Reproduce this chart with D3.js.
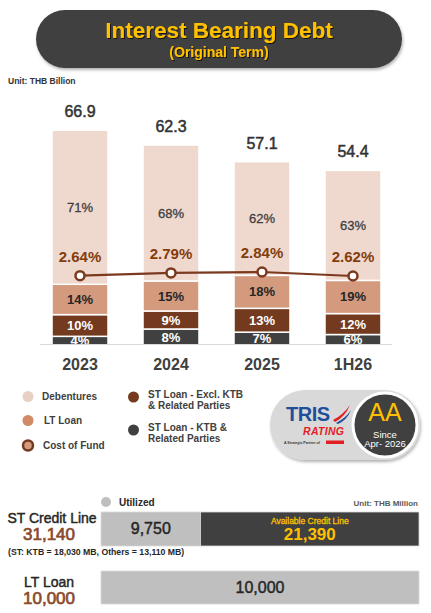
<!DOCTYPE html>
<html>
<head>
<meta charset="UTF-8" />
<script src="https://d3js.org/d3.v7.min.js"></script>
<style>
  body { margin: 0; background: #fff; }
  svg { display: block; font-family: "Liberation Sans", Arial, sans-serif; }
</style>
</head>
<body>
<svg id="svg"></svg>
<script>
  // data
  var categories = ["2023", "2024", "2025", "1H26"];
  var totals = [66.9, 62.3, 57.1, 54.4];
  var ktbPct = [4, 8, 7, 6];
  var stExclPct = [10, 9, 13, 12];
  var ltLoanPct = [14, 15, 18, 19];
  var debenturesPct = [71, 68, 62, 63];
  var costOfFund = [2.64, 2.79, 2.84, 2.62];

  var stCreditLine = 31140;
  var stUtilized = 9750;
  var stAvailable = 21390;
  var ltLoan = 10000;

  var width = 431, height = 613;

  var c_deb = "#EFD9CE", c_lt = "#D49A7E", c_excl = "#743A1F", c_ktb = "#404040";
  var c_line = "#7B3A1F", c_cof = "#843C0C", c_yellow = "#FFC000", c_brown = "#8A4B2C";

  var svg = d3.select("#svg").attr("width", width).attr("height", height);

  // thin outline makes regular text look semi-bold like the reference
  function heavy(sel, w) {
    return sel.attr("stroke", sel.attr("fill")).attr("stroke-width", w || 0.4);
  }

  var defs = svg.append("defs");
  var sh = defs.append("filter").attr("id", "shadow").attr("x", "-10%").attr("y", "-20%").attr("width", "120%").attr("height", "150%");
  sh.append("feDropShadow").attr("dx", 1).attr("dy", 2).attr("stdDeviation", 1.5).attr("flood-color", "#000").attr("flood-opacity", 0.3);
  var tsh = defs.append("filter").attr("id", "tshadow");
  tsh.append("feDropShadow").attr("dx", 1).attr("dy", 1).attr("stdDeviation", 0.6).attr("flood-color", "#000").attr("flood-opacity", 0.7);
  defs.append("clipPath").attr("id", "plotclip").append("rect")
    .attr("x", 0).attr("y", 0).attr("width", width).attr("height", 344);

  // title pill
  svg.append("rect").attr("x", 36).attr("y", 10).attr("width", 366).attr("height", 58)
    .attr("rx", 29).attr("fill", "#404040").attr("filter", "url(#shadow)");
  svg.append("text").attr("x", 219).attr("y", 38).attr("text-anchor", "middle")
    .attr("font-size", 22.5).attr("font-weight", "bold").attr("fill", c_yellow)
    .attr("filter", "url(#tshadow)").text("Interest Bearing Debt");
  svg.append("text").attr("x", 219).attr("y", 57).attr("text-anchor", "middle")
    .attr("font-size", 14).attr("font-weight", "bold").attr("fill", c_yellow)
    .attr("filter", "url(#tshadow)").text("(Original Term)");

  svg.append("text").attr("x", 8).attr("y", 84).attr("font-size", 8.5).attr("font-weight", "bold")
    .attr("fill", "#333").text("Unit: THB Billion");

  // scales
  var x = d3.scaleBand().domain(categories).range([17, 416]).padding(0.385);
  var y = d3.scaleLinear().domain([0, 70]).range([345, 120.3]);
  var yCof = d3.scaleLinear().domain([2.5, 3.0]).range([278.2, 269.1]);

  var keys = ["ktb", "excl", "lt", "deb"];
  var rows = categories.map(function (c, i) {
    var pcts = [ktbPct[i], stExclPct[i], ltLoanPct[i], debenturesPct[i]];
    var sum = d3.sum(pcts);
    var r = { cat: c, total: totals[i] };
    keys.forEach(function (k, j) { r[k] = totals[i] * pcts[j] / sum; r[k + "Pct"] = pcts[j]; });
    return r;
  });
  var series = d3.stack().keys(keys)(rows);
  var colors = { ktb: c_ktb, excl: c_excl, lt: c_lt, deb: c_deb };
  var labelColors = { ktb: "#fff", excl: "#fff", lt: "#262626", deb: "#404040" };

  var plot = svg.append("g").attr("clip-path", "url(#plotclip)");

  var layers = plot.selectAll("g.layer").data(series).enter().append("g").attr("class", "layer");
  layers.selectAll("rect").data(function (s) { return s.map(function (d) { d.key = s.key; return d; }); })
    .enter().append("rect")
    .attr("x", function (d) { return x(d.data.cat); })
    .attr("width", x.bandwidth())
    .attr("y", function (d) { return y(d[1]); })
    .attr("height", function (d) { return y(d[0]) - y(d[1]); })
    .attr("fill", function (d) { return colors[d.key]; })
    .attr("stroke", "#fff").attr("stroke-width", 1.5);

  layers.selectAll("text").data(function (s) { return s; })
    .enter().append("text")
    .attr("x", function (d) { return x(d.data.cat) + x.bandwidth() / 2; })
    .attr("y", function (d) { return (y(d[0]) + y(d[1])) / 2 + 4.5; })
    .attr("text-anchor", "middle")
    .attr("font-size", 13)
    .attr("font-weight", function (d) { return d.key == "deb" ? "normal" : "bold"; })
    .attr("fill", function (d) { return labelColors[d.key]; })
    .attr("stroke", function (d) { return d.key == "deb" ? "#404040" : "none"; })
    .attr("stroke-width", 0.3)
    .text(function (d) { return d.data[d.key + "Pct"] + "%"; });

  // axis line
  svg.append("line").attr("x1", 40).attr("x2", 392).attr("y1", 344.5).attr("y2", 344.5)
    .attr("stroke", "#D9D9D9").attr("stroke-width", 1);

  // totals
  heavy(svg.selectAll("text.total").data(rows).enter().append("text").attr("class", "total")
    .attr("x", function (d) { return x(d.cat) + x.bandwidth() / 2; })
    .attr("y", function (d) { return y(d.total) - 13; })
    .attr("text-anchor", "middle").attr("font-size", 16).attr("fill", "#333")
    .text(function (d) { return d.total.toFixed(1); }), 0.5);

  // category labels
  svg.selectAll("text.cat").data(categories).enter().append("text").attr("class", "cat")
    .attr("x", function (d) { return x(d) + x.bandwidth() / 2; })
    .attr("y", 370).attr("text-anchor", "middle").attr("font-size", 16)
    .attr("font-weight", "bold").attr("fill", "#404040").text(function (d) { return d; });

  // cost of fund line
  var cof = categories.map(function (c, i) { return { cat: c, v: costOfFund[i] }; });
  var line = d3.line().x(function (d) { return x(d.cat) + x.bandwidth() / 2; }).y(function (d) { return yCof(d.v); });
  svg.append("path").datum(cof).attr("d", line).attr("fill", "none")
    .attr("stroke", c_line).attr("stroke-width", 2.2);
  svg.selectAll("circle.cof").data(cof).enter().append("circle").attr("class", "cof")
    .attr("cx", function (d) { return x(d.cat) + x.bandwidth() / 2; })
    .attr("cy", function (d) { return yCof(d.v); })
    .attr("r", 4.5).attr("fill", "#fff").attr("stroke", c_line).attr("stroke-width", 2.5);
  svg.selectAll("text.cof").data(cof).enter().append("text").attr("class", "cof")
    .attr("x", function (d) { return x(d.cat) + x.bandwidth() / 2; })
    .attr("y", function (d) { return yCof(d.v) - 14; })
    .attr("text-anchor", "middle").attr("font-size", 15).attr("font-weight", "bold")
    .attr("fill", c_cof).text(function (d) { return d.v.toFixed(2) + "%"; });

  // legend
  var leg = svg.append("g").attr("font-size", 10).attr("font-weight", "bold").attr("fill", "#404040");
  leg.append("circle").attr("cx", 28).attr("cy", 396.5).attr("r", 5.5).attr("fill", "#E8D0C4");
  leg.append("text").attr("x", 42).attr("y", 400).text("Debentures");
  leg.append("circle").attr("cx", 28).attr("cy", 420.5).attr("r", 5.5).attr("fill", "#D08A66");
  leg.append("text").attr("x", 44).attr("y", 424).text("LT Loan");
  leg.append("circle").attr("cx", 28).attr("cy", 445.5).attr("r", 5).attr("fill", c_lt)
    .attr("stroke", c_excl).attr("stroke-width", 2.5);
  leg.append("text").attr("x", 43).attr("y", 449).text("Cost of Fund");
  leg.append("circle").attr("cx", 133.5).attr("cy", 397).attr("r", 5.5).attr("fill", c_excl);
  leg.append("text").attr("x", 148).attr("y", 398).text("ST Loan - Excl. KTB");
  leg.append("text").attr("x", 148).attr("y", 409).text("& Related Parties");
  leg.append("circle").attr("cx", 133.5).attr("cy", 430).attr("r", 5.5).attr("fill", c_ktb);
  leg.append("text").attr("x", 148).attr("y", 431).text("ST Loan - KTB &");
  leg.append("text").attr("x", 148).attr("y", 442).text("Related Parties");

  // rating badge
  var badge = svg.append("g");
  badge.append("rect").attr("x", 270).attr("y", 390).attr("width", 150).attr("height", 70)
    .attr("rx", 35).attr("fill", "#D9D9D9").attr("filter", "url(#shadow)");
  badge.append("text").attr("x", 286).attr("y", 421).attr("font-size", 20).attr("font-weight", "bold")
    .attr("fill", "#1F4E9A").attr("letter-spacing", -0.5).text("TRIS");
  badge.append("path").attr("d", "M333,420 Q343,415 350,405 Q345,417 335,422 Z").attr("fill", "#E31E24");
  badge.append("path").attr("d", "M336,423 Q346,418 351,410 Q347,420 338,424 Z").attr("fill", "#1F4E9A");
  badge.append("text").attr("x", 303).attr("y", 435).attr("font-size", 10.5).attr("font-weight", "bold")
    .attr("font-style", "italic").attr("fill", "#E31E24").attr("textLength", 41).text("RATING");
  badge.append("text").attr("x", 284).attr("y", 443.5).attr("font-size", 3.5).attr("font-weight", "bold")
    .attr("fill", "#333").text("A Strategic Partner of");
  badge.append("rect").attr("x", 326).attr("y", 440.5).attr("width", 18).attr("height", 3.5).attr("fill", "#E31E24");
  badge.append("circle").attr("cx", 385).attr("cy", 425).attr("r", 32).attr("fill", "#404040")
    .attr("stroke", "#fff").attr("stroke-width", 3);
  badge.append("text").attr("x", 385).attr("y", 421).attr("text-anchor", "middle").attr("font-size", 25)
    .attr("fill", c_yellow).text("AA");
  badge.append("text").attr("x", 385).attr("y", 437.5).attr("text-anchor", "middle").attr("font-size", 9.5)
    .attr("fill", "#fff").text("Since");
  badge.append("text").attr("x", 385).attr("y", 447).attr("text-anchor", "middle").attr("font-size", 9.5)
    .attr("fill", "#fff").text("Apr- 2026");

  // credit lines
  var xs = d3.scaleLinear().domain([0, stCreditLine]).range([101, 419]);
  var xl = d3.scaleLinear().domain([0, ltLoan]).range([101, 419]);

  svg.append("circle").attr("cx", 106).attr("cy", 502).attr("r", 5).attr("fill", "#BFBFBF");
  svg.append("text").attr("x", 119).attr("y", 506).attr("font-size", 10).attr("font-weight", "bold")
    .attr("fill", "#262626").text("Utilized");
  svg.append("text").attr("x", 418).attr("y", 506).attr("text-anchor", "end").attr("font-size", 8)
    .attr("font-weight", "bold").attr("fill", "#595959").text("Unit: THB Million");

  heavy(svg.append("text").attr("x", 52).attr("y", 523).attr("text-anchor", "middle").attr("font-size", 14)
    .attr("fill", "#262626").text("ST Credit Line"), 0.45);
  heavy(svg.append("text").attr("x", 49).attr("y", 540).attr("text-anchor", "middle").attr("font-size", 17)
    .attr("fill", c_brown).text(d3.format(",")(stCreditLine)), 0.7);
  svg.append("text").attr("x", 8).attr("y", 555).attr("font-size", 8.7).attr("font-weight", "bold")
    .attr("fill", "#262626").text("(ST: KTB = 18,030 MB, Others = 13,110 MB)");

  var st = [{ k: "u", v0: 0, v1: stUtilized, fill: "#BFBFBF" },
            { k: "a", v0: stUtilized, v1: stUtilized + stAvailable, fill: "#404040" }];
  svg.selectAll("rect.st").data(st).enter().append("rect").attr("class", "st")
    .attr("x", function (d) { return xs(d.v0); }).attr("y", 512)
    .attr("width", function (d) { return xs(d.v1) - xs(d.v0); }).attr("height", 34)
    .attr("fill", function (d) { return d.fill; }).attr("stroke", "#D9D9D9").attr("stroke-width", 0.8);
  heavy(svg.append("text").attr("x", (xs(0) + xs(stUtilized)) / 2).attr("y", 534).attr("text-anchor", "middle")
    .attr("font-size", 16).attr("fill", "#262626").text(d3.format(",")(stUtilized)), 0.45);
  var availX = (xs(stUtilized) + xs(stCreditLine)) / 2;
  heavy(svg.append("text").attr("x", availX).attr("y", 524).attr("text-anchor", "middle")
    .attr("font-size", 8.5).attr("fill", c_yellow).text("Available Credit Line"), 0.3);
  svg.append("text").attr("x", availX).attr("y", 540).attr("text-anchor", "middle")
    .attr("font-size", 17).attr("font-weight", "bold").attr("fill", c_yellow).text(d3.format(",")(stAvailable));

  heavy(svg.append("text").attr("x", 49).attr("y", 587).attr("text-anchor", "middle").attr("font-size", 14)
    .attr("fill", "#262626").text("LT Loan"), 0.45);
  heavy(svg.append("text").attr("x", 49).attr("y", 604).attr("text-anchor", "middle").attr("font-size", 17)
    .attr("fill", c_brown).text(d3.format(",")(ltLoan)), 0.7);
  svg.append("rect").attr("x", xl(0)).attr("y", 571).attr("width", xl(ltLoan) - xl(0)).attr("height", 33)
    .attr("fill", "#BFBFBF").attr("stroke", "#D9D9D9").attr("stroke-width", 0.8);
  heavy(svg.append("text").attr("x", (xl(0) + xl(ltLoan)) / 2).attr("y", 593).attr("text-anchor", "middle")
    .attr("font-size", 16).attr("fill", "#262626").text(d3.format(",")(ltLoan)), 0.45);
</script>
</body>
</html>
